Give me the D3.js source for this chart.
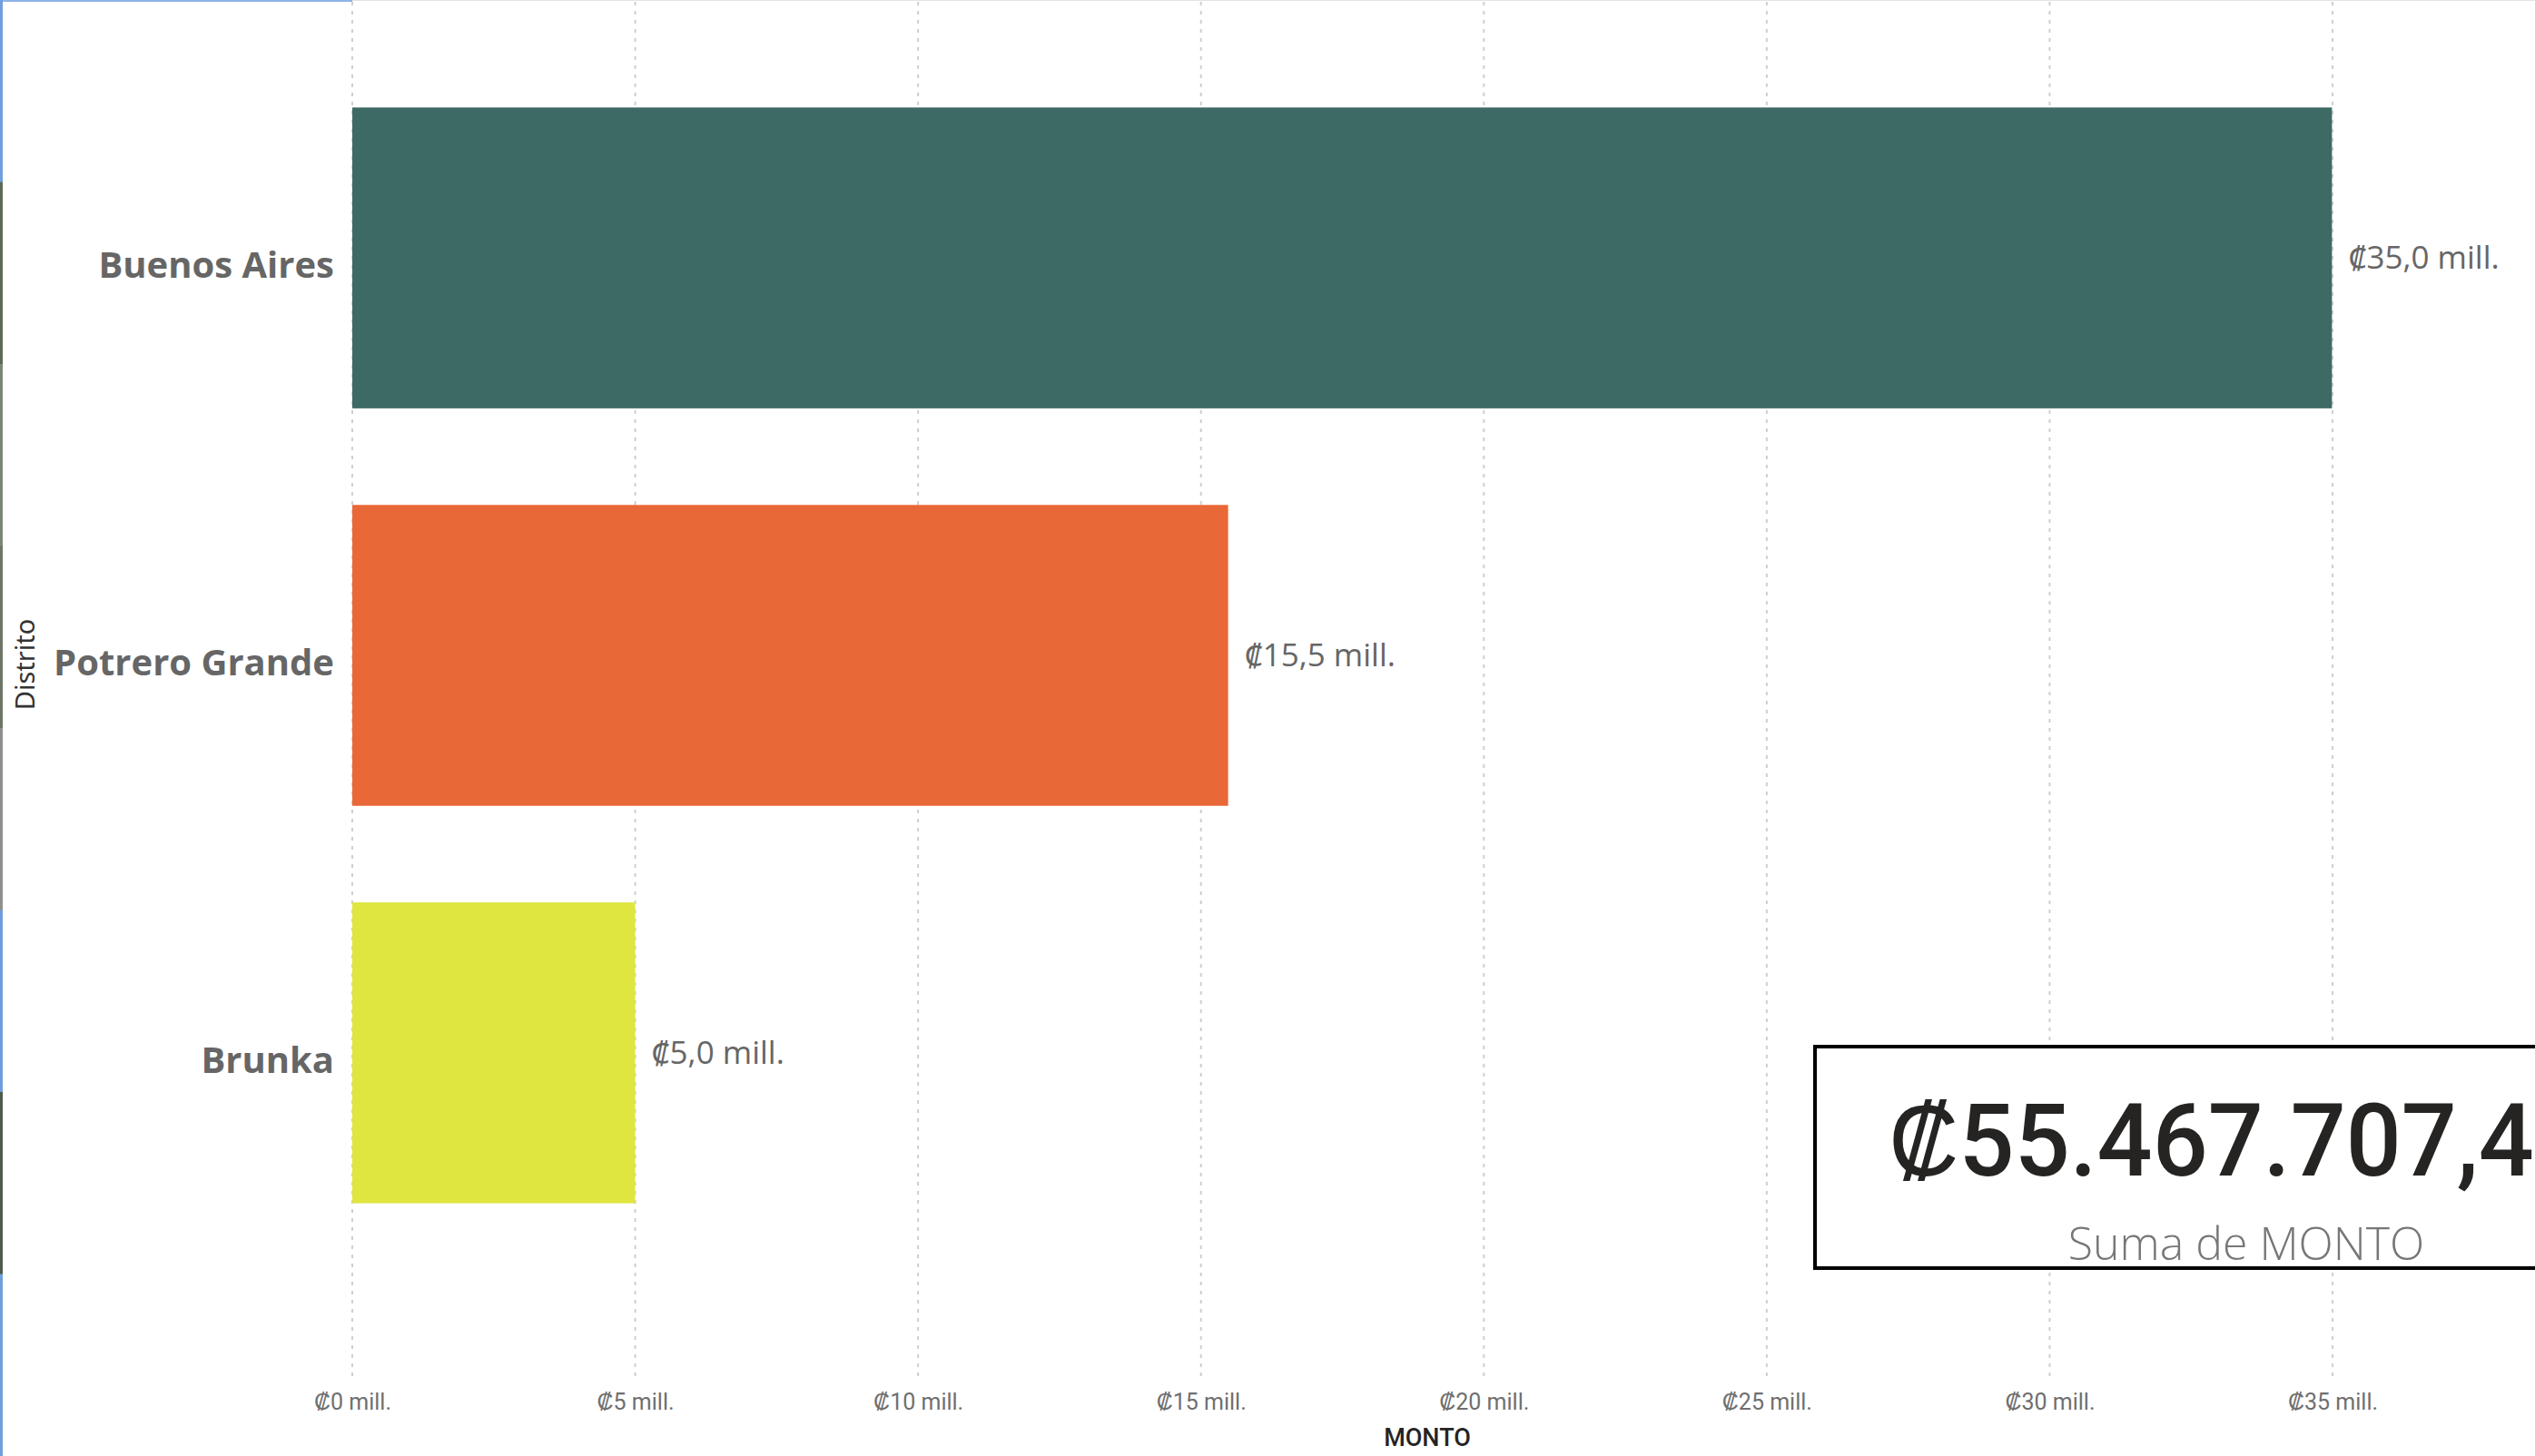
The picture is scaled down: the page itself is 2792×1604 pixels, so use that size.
<!DOCTYPE html>
<html>
<head>
<meta charset="utf-8">
<script src="https://cdn.jsdelivr.net/npm/d3@7"></script>
<style>
  html, body { margin: 0; padding: 0; background: #ffffff; overflow: hidden; }
  svg { display: block; }
</style>
</head>
<body>
<svg id="chart" width="2792" height="1604"></svg>
<script>
// ---- data ----
const categories = ["Buenos Aires", "Potrero Grande", "Brunka"];
const montoMillones = [34.99, 15.48, 5.00];
const barColors = ["#3d6a64", "#e86837", "#dee63f"];
const tickValues = [0, 5, 10, 15, 20, 25, 30, 35];
const tickLabels = ["₡0 mill.", "₡5 mill.", "₡10 mill.", "₡15 mill.", "₡20 mill.", "₡25 mill.", "₡30 mill.", "₡35 mill."];
const dataLabels = ["₡35,0 mill.", "₡15,5 mill.", "₡5,0 mill."];
const yTitle = "Distrito";
const xTitle = "MONTO";
const cardValue = "₡55.467.707,40";
const cardLabel = "Suma de MONTO";

const svg = d3.select("#chart");
const W = 2792, H = 1604;

// background decorations (edges of the report canvas)
svg.append("rect").attr("x", 0).attr("y", 0).attr("width", W).attr("height", H).attr("fill", "#ffffff");
svg.append("rect").attr("x", 0).attr("y", 0).attr("width", 388).attr("height", 2).attr("fill", "#8db3e6");
svg.append("rect").attr("x", 388).attr("y", 0).attr("width", W - 388).attr("height", 1).attr("fill", "#e3e3e3");
const edgeColors = ["#6f9fdc", "#5d6b55", "#7c8676", "#6d7566", "#8f8f8f", "#6e9ddb", "#4f5b4c", "#6fa0dc"];
const edgeScale = d3.scaleBand().domain(d3.range(edgeColors.length)).range([0, H]);
svg.append("g").selectAll("rect").data(edgeColors).join("rect")
  .attr("x", 0).attr("width", 3)
  .attr("y", (d, i) => edgeScale(i)).attr("height", edgeScale.bandwidth() + 1)
  .attr("fill", d => d);

// scales
const x = d3.scaleLinear().domain([0, 35]).range([388, 2569]);
const y = d3.scaleBand().domain(categories).range([12, 1432]).padding(0.243);

// gridlines
svg.append("g").selectAll("line").data(tickValues).join("line")
  .attr("x1", d => x(d)).attr("x2", d => x(d))
  .attr("y1", 2).attr("y2", 1522)
  .attr("stroke", "#cfcfcf").attr("stroke-width", 2)
  .attr("stroke-dasharray", "4,6");

// bars
const rows = categories.map((c, i) => ({ c, v: montoMillones[i], col: barColors[i], lab: dataLabels[i] }));
svg.append("g").selectAll("rect").data(rows).join("rect")
  .attr("x", x(0)).attr("y", d => y(d.c))
  .attr("width", d => x(d.v) - x(0)).attr("height", y.bandwidth())
  .attr("fill", d => d.col);

// data labels
svg.append("g").selectAll("text").data(rows).join("text")
  .attr("x", d => x(d.v) + 18).attr("y", d => y(d.c) + y.bandwidth() / 2)
  .attr("dy", "0.35em")
  .attr("font-family", "'Open Sans', 'Noto Sans', sans-serif")
  .attr("font-size", 35).attr("fill", "#666666")
  .text(d => d.lab);

// y axis (category labels)
const yAxis = d3.axisLeft(y).tickSize(0).tickPadding(20);
const gy = svg.append("g").attr("transform", `translate(${x(0)},0)`).call(yAxis);
gy.select(".domain").remove();
gy.selectAll("text")
  .attr("font-family", "'Open Sans', 'Noto Sans', sans-serif")
  .attr("font-weight", 700).attr("font-size", 40).attr("fill", "#666666")
  .attr("dy", "0.55em");

// x axis (tick labels)
const xAxis = d3.axisBottom(x).tickValues(tickValues).tickSize(0).tickPadding(0)
  .tickFormat((d, i) => tickLabels[i]);
const gx = svg.append("g").attr("transform", "translate(0,1530)").call(xAxis);
gx.select(".domain").remove();
gx.selectAll("text")
  .attr("font-family", "Roboto, sans-serif")
  .attr("font-size", 25).attr("fill", "#6f6f6f")
  .attr("dy", "0.9em");

// axis titles
svg.append("text")
  .attr("transform", "translate(38,732) rotate(-90)")
  .attr("text-anchor", "middle")
  .attr("font-family", "'Noto Sans', sans-serif")
  .attr("font-size", 29).attr("fill", "#333333")
  .text(yTitle);
svg.append("text")
  .attr("x", 1572).attr("y", 1593)
  .attr("text-anchor", "middle")
  .attr("font-family", "Roboto, sans-serif")
  .attr("font-weight", 500)
  .attr("font-size", 27).attr("fill", "#252423")
  .text(xTitle);

// card
svg.append("rect")
  .attr("x", 1999).attr("y", 1153).attr("width", 960).attr("height", 244)
  .attr("fill", "#ffffff").attr("stroke", "#000000").attr("stroke-width", 4);
const big = svg.append("text")
  .attr("x", 2466).attr("y", 1295)
  .attr("text-anchor", "middle")
  .attr("font-family", "Roboto, sans-serif")
  .attr("font-weight", 500)
  .attr("font-size", 112).attr("fill", "#252423")
  .text(cardValue);
big.attr("textLength", 772).attr("lengthAdjust", "spacingAndGlyphs");
svg.append("text")
  .attr("x", 2474).attr("y", 1388)
  .attr("text-anchor", "middle")
  .attr("font-family", "'Open Sans', 'Noto Sans', sans-serif")
  .attr("font-weight", 300)
  .attr("font-size", 50).attr("fill", "#777777")
  .text(cardLabel);
</script>
</body>
</html>
